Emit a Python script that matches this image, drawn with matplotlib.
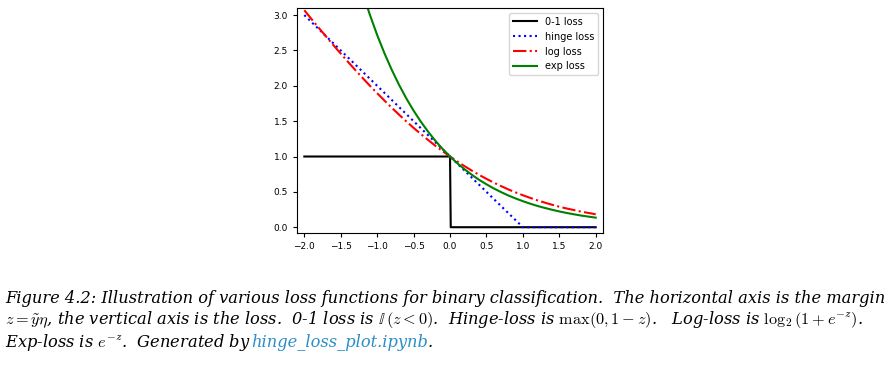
import numpy as np
import matplotlib
matplotlib.use("Agg")
import matplotlib.pyplot as plt

plt.rcParams['mathtext.fontset'] = 'cm'

# margin values z and the losses
z = [-2.0, -1.9, -1.8, -1.7, -1.6, -1.5, -1.4, -1.3, -1.2, -1.1, -1.0,
     -0.9, -0.8, -0.7, -0.6, -0.5, -0.4, -0.3, -0.2, -0.1, 0.0,
     0.1, 0.2, 0.3, 0.4, 0.5, 0.6, 0.7, 0.8, 0.9, 1.0,
     1.1, 1.2, 1.3, 1.4, 1.5, 1.6, 1.7, 1.8, 1.9, 2.0]
hinge = [3.0, 2.9, 2.8, 2.7, 2.6, 2.5, 2.4, 2.3, 2.2, 2.1, 2.0,
         1.9, 1.8, 1.7, 1.6, 1.5, 1.4, 1.3, 1.2, 1.1, 1.0,
         0.9, 0.8, 0.7, 0.6, 0.5, 0.4, 0.3, 0.2, 0.1, 0.0,
         0.0, 0.0, 0.0, 0.0, 0.0, 0.0, 0.0, 0.0, 0.0, 0.0]
log_loss = [3.069, 2.942, 2.818, 2.695, 2.574, 2.455, 2.338, 2.223, 2.111, 2.001, 1.895,
            1.791, 1.690, 1.592, 1.497, 1.405, 1.317, 1.233, 1.151, 1.074, 1.000,
            0.930, 0.863, 0.800, 0.740, 0.684, 0.631, 0.582, 0.535, 0.493, 0.452,
            0.415, 0.380, 0.348, 0.318, 0.290, 0.265, 0.243, 0.220, 0.202, 0.183]
exp_loss = [7.389, 6.686, 6.050, 5.474, 4.953, 4.482, 4.055, 3.669, 3.320, 3.004, 2.718,
            2.460, 2.226, 2.014, 1.822, 1.649, 1.492, 1.350, 1.221, 1.105, 1.000,
            0.905, 0.819, 0.741, 0.670, 0.607, 0.549, 0.497, 0.449, 0.407, 0.368,
            0.333, 0.301, 0.273, 0.247, 0.223, 0.202, 0.183, 0.165, 0.150, 0.135]
zero_one_z = [-2.0, 0.0, 0.01, 2.0]
zero_one = [1.0, 1.0, 0.0, 0.0]

fig = plt.figure(figsize=(8.92, 3.65), dpi=100)
ax = fig.add_axes([0.333, 0.362, 0.343, 0.616])

ax.plot(zero_one_z, zero_one, color='black', lw=1.5, label='0-1 loss')
ax.plot(z, hinge, color='blue', ls=':', lw=1.5, label='hinge loss')
ax.plot(z, log_loss, color='red', ls='-.', lw=1.5, label='log loss')
ax.plot(z, exp_loss, color='green', lw=1.5, label='exp loss')

ax.set_xlim(-2.1, 2.1)
ax.set_ylim(-0.08, 3.1)
ax.set_xticks([-2.0, -1.5, -1.0, -0.5, 0.0, 0.5, 1.0, 1.5, 2.0])
ax.set_yticks([0.0, 0.5, 1.0, 1.5, 2.0, 2.5, 3.0])
ax.tick_params(labelsize=6.5, length=3)
ax.legend(loc='upper right', fontsize=7, handlelength=2.5)

# caption
cap = dict(family='DejaVu Serif', style='italic', fontsize=11.7)
link = '#2a8fc7'
fig.text(0.006, 0.170, "Figure 4.2: Illustration of various loss functions for binary classification.  "
         "The horizontal axis is the margin", va='baseline', **cap)
fig.text(0.006, 0.112, r"$z=\tilde{y}\eta$, the vertical axis is the loss.  0-1 loss is $\mathbb{I}\,(z<0)$.  "
         r"Hinge-loss is $\max(0,1-z)$.   Log-loss is $\log_2(1+e^{-z})$.", va='baseline', **cap)
t = fig.text(0.006, 0.049, r"Exp-loss is $e^{-z}$.  Generated by ", va='baseline', **cap)
fig.canvas.draw()
x_link = t.get_window_extent().x1 / fig.bbox.width
t2 = fig.text(x_link, 0.049, "hinge_loss_plot.ipynb", color=link, va='baseline', **cap)
fig.canvas.draw()
fig.text(t2.get_window_extent().x1 / fig.bbox.width, 0.049, ".", va='baseline', **cap)

fig.savefig('out.png', dpi=100)
